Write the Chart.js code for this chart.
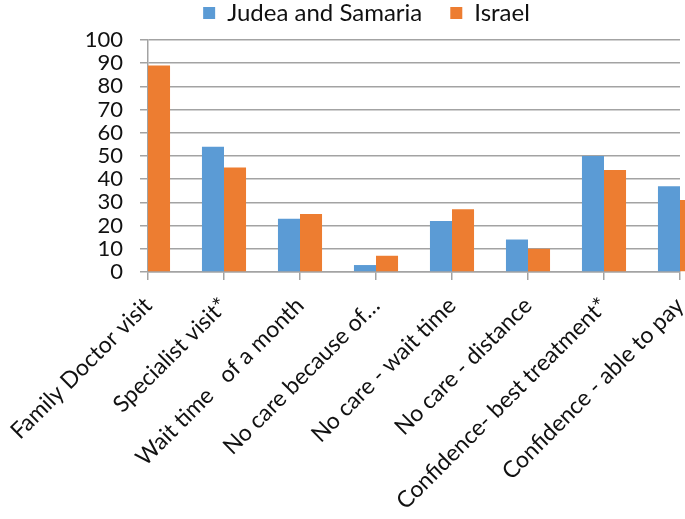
<!DOCTYPE html>
<html>
<head>
<meta charset="utf-8">
<script src="https://cdn.jsdelivr.net/npm/chart.js@4/dist/chart.umd.min.js"></script>
<style>
  html, body { margin: 0; padding: 0; background: #fff; }
  #wrap { width: 685px; height: 519px; }
</style>
</head>
<body>
<div id="wrap"><canvas id="chart" width="685" height="519"></canvas></div>
<script>
// categories and values
const categories = [
    'Family Doctor visit',
    'Specialist visit*',
    'Wait time   of a month',
    'No care because of…',
    'No care - wait time',
    'No care - distance',
    'Confidence- best treatment*',
    'Confidence - able to pay'
];
const judeaSamaria = [null, 54, 23, 3, 22, 14, 50, 37];
const israel = [89, 45, 25, 7, 27, 10, 44, 31];
const yTicks = [0, 10, 20, 30, 40, 50, 60, 70, 80, 90, 100];

const FONT = 'Lato, "Open Sans", sans-serif';
const gridGray = '#a3a3a3';

// decale la legende (droite / haut), comme dans l'original
const legendShift = {
    id: 'legendShift',
    afterLayout(chart) {
        const lg = chart.legend;
        lg.left += 24;
        lg.right += 24;
        lg.top -= 5;
        lg.bottom -= 5;
    }
};

const ctx = document.getElementById('chart').getContext('2d');
new Chart(ctx, {
    type: 'bar',
    data: {
        labels: categories,
        datasets: [
            {
                label: 'Judea and Samaria',
                data: judeaSamaria,
                backgroundColor: '#5b9bd5',
                categoryPercentage: 0.58,
                barPercentage: 1,
                clip: { left: 0, top: false, right: false, bottom: 0 }
            },
            {
                label: 'Israel',
                data: israel,
                backgroundColor: '#ed7d31',
                categoryPercentage: 0.58,
                barPercentage: 1,
                clip: { left: 0, top: false, right: false, bottom: 0 }
            }
        ]
    },
    options: {
        responsive: false,
        animation: false,
        layout: { padding: { left: 0, right: 0, top: -22, bottom: 0 } },
        plugins: {
            tooltip: { enabled: false },
            legend: {
                position: 'top',
                labels: {
                    color: '#111',
                    font: { family: FONT, size: 24 },
                    boxWidth: 12,
                    boxHeight: 12,
                    padding: 28
                }
            }
        },
        scales: {
            x: {
                offset: false,
                grid: {
                    offset: false,
                    drawOnChartArea: false,
                    drawTicks: true,
                    tickLength: 8,
                    color: gridGray,
                    lineWidth: 1.5
                },
                border: { display: true, color: gridGray, width: 1.5 },
                ticks: {
                    color: '#111',
                    font: { family: FONT, size: 23 },
                    minRotation: 45,
                    maxRotation: 45,
                    autoSkip: false,
                    padding: 12
                },
                afterFit(scale) {
                    scale.height = 247;
                    scale.paddingLeft = 0;
                    scale.paddingRight = 5;
                }
            },
            y: {
                min: 0,
                max: 100,
                afterBuildTicks(scale) {
                    scale.ticks = yTicks.map(v => ({ value: v }));
                },
                grid: {
                    color: gridGray,
                    lineWidth: 1.5,
                    drawTicks: true,
                    tickLength: 8
                },
                border: { display: true, color: gridGray, width: 1.5 },
                ticks: {
                    color: '#111',
                    font: { family: FONT, size: 22 },
                    autoSkip: false,
                    padding: 17
                },
                afterFit(scale) { scale.width = 148; }
            }
        }
    },
    plugins: [legendShift]
});
</script>
</body>
</html>
